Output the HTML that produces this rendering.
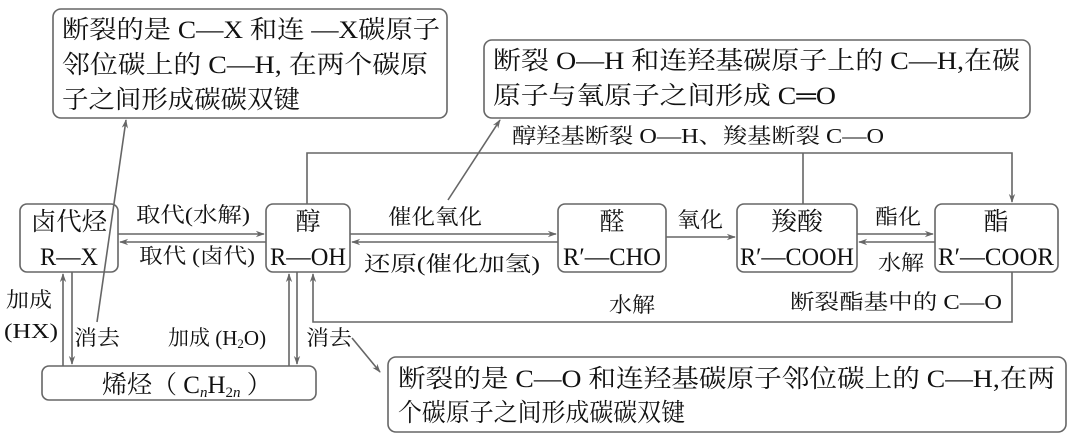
<!DOCTYPE html>
<html><head><meta charset="utf-8"><style>
html,body{margin:0;padding:0;background:#fff}
svg{display:block}
text{font-family:"Liberation Serif","Noto Serif CJK SC",serif;fill:#111}
.b{font-size:25px}
.s{font-size:21px}
</style></head><body>
<svg width="1080" height="442" viewBox="0 0 1080 442" xmlns="http://www.w3.org/2000/svg">
<defs><marker id="a" viewBox="0 0 10 10" refX="9" refY="5" markerWidth="9" markerHeight="9" orient="auto-start-reverse" markerUnits="userSpaceOnUse"><path d="M0,1.5 L10,5 L0,8.5 L3,5 z" fill="#666"/></marker></defs>
<g fill="none" stroke="#666" stroke-width="1.6">
<rect x="53" y="9" width="394" height="109" rx="8"/>
<rect x="484" y="40" width="546" height="78" rx="8"/>
<rect x="388" y="357" width="678" height="75" rx="8"/>
<rect x="20" y="204" width="98" height="68" rx="7"/>
<rect x="266" y="204" width="84" height="68" rx="7"/>
<rect x="558" y="204" width="108" height="68" rx="7"/>
<rect x="737" y="204" width="120" height="68" rx="7"/>
<rect x="935" y="204" width="123" height="68" rx="7"/>
<rect x="42" y="366" width="274" height="34" rx="7"/>
<line x1="118" y1="234" x2="264" y2="234" marker-end="url(#a)"/>
<line x1="266" y1="242" x2="120" y2="242" marker-end="url(#a)"/>
<line x1="350" y1="234" x2="556" y2="234" marker-end="url(#a)"/>
<line x1="558" y1="242" x2="352" y2="242" marker-end="url(#a)"/>
<line x1="666" y1="237" x2="735" y2="237" marker-end="url(#a)"/>
<line x1="857" y1="234" x2="933" y2="234" marker-end="url(#a)"/>
<line x1="935" y1="242" x2="859" y2="242" marker-end="url(#a)"/>
<polyline points="307,204 307,153 1012,153 1012,202" marker-end="url(#a)"/>
<line x1="803" y1="204" x2="803" y2="153"/>
<polyline points="1012,272 1012,322 313,322 313,274" marker-end="url(#a)"/>
<line x1="63" y1="366" x2="63" y2="274" marker-end="url(#a)"/>
<line x1="72" y1="272" x2="72" y2="364" marker-end="url(#a)"/>
<line x1="289" y1="366" x2="289" y2="274" marker-end="url(#a)"/>
<line x1="297" y1="272" x2="297" y2="364" marker-end="url(#a)"/>
<line x1="97" y1="322" x2="126" y2="120" marker-end="url(#a)"/>
<line x1="448" y1="200" x2="500" y2="120" marker-end="url(#a)"/>
<line x1="352" y1="338" x2="380" y2="372" marker-end="url(#a)"/>
</g>
<text class="b" x="62" y="38" textLength="378" lengthAdjust="spacingAndGlyphs">断裂的是 C—X 和连 —X碳原子</text>
<text class="b" x="62" y="73" textLength="366" lengthAdjust="spacingAndGlyphs">邻位碳上的 C—H, 在两个碳原</text>
<text class="b" x="62" y="108" textLength="238" lengthAdjust="spacingAndGlyphs">子之间形成碳碳双键</text>
<text class="b" x="493" y="69" textLength="527" lengthAdjust="spacingAndGlyphs">断裂 O—H 和连羟基碳原子上的 C—H,在碳</text>
<text class="b" x="493" y="104" textLength="343" lengthAdjust="spacingAndGlyphs">原子与氧原子之间形成 C═O</text>
<text class="b" x="398" y="387" textLength="657" lengthAdjust="spacingAndGlyphs">断裂的是 C—O 和连羟基碳原子邻位碳上的 C—H,在两</text>
<text class="b" x="398" y="421" textLength="287" lengthAdjust="spacingAndGlyphs">个碳原子之间形成碳碳双键</text>
<text class="s" x="512" y="143" textLength="372" lengthAdjust="spacingAndGlyphs">醇羟基断裂 O—H、羧基断裂  C—O</text>
<text class="b" x="69" y="230" text-anchor="middle" textLength="76" lengthAdjust="spacingAndGlyphs">卤代烃</text>
<text class="b" x="69" y="265" text-anchor="middle" textLength="58" lengthAdjust="spacingAndGlyphs">R—X</text>
<text class="b" x="308" y="230" text-anchor="middle">醇</text>
<text class="b" x="308" y="265" text-anchor="middle" textLength="76" lengthAdjust="spacingAndGlyphs">R—OH</text>
<text class="b" x="612" y="230" text-anchor="middle">醛</text>
<text class="b" x="612" y="265" text-anchor="middle" textLength="98" lengthAdjust="spacingAndGlyphs">R′—CHO</text>
<text class="b" x="797" y="230" text-anchor="middle" textLength="52" lengthAdjust="spacingAndGlyphs">羧酸</text>
<text class="b" x="797" y="265" text-anchor="middle" textLength="114" lengthAdjust="spacingAndGlyphs">R′—COOH</text>
<text class="b" x="996" y="230" text-anchor="middle">酯</text>
<text class="b" x="996" y="265" text-anchor="middle" textLength="116" lengthAdjust="spacingAndGlyphs">R′—COOR</text>
<text class="b" x="102" y="393">烯烃（ C<tspan font-style="italic" font-size="15" dy="4">n</tspan><tspan dy="-4">H</tspan><tspan font-size="15" dy="4">2<tspan font-style="italic">n</tspan></tspan><tspan dy="-4"> ）</tspan></text>
<text class="s" x="136" y="222" textLength="114" lengthAdjust="spacingAndGlyphs">取代(水解)</text>
<text class="s" x="139" y="263" textLength="116" lengthAdjust="spacingAndGlyphs">取代 (卤代)</text>
<text class="s" x="388" y="224" textLength="94" lengthAdjust="spacingAndGlyphs">催化氧化</text>
<text class="s" x="364" y="271" textLength="176" lengthAdjust="spacingAndGlyphs">还原(催化加氢)</text>
<text class="s" x="677" y="227" textLength="46" lengthAdjust="spacingAndGlyphs">氧化</text>
<text class="s" x="875" y="224" textLength="46" lengthAdjust="spacingAndGlyphs">酯化</text>
<text class="s" x="878" y="270" textLength="46" lengthAdjust="spacingAndGlyphs">水解</text>
<text class="s" x="609" y="312" textLength="46" lengthAdjust="spacingAndGlyphs">水解</text>
<text class="s" x="790" y="309" textLength="212" lengthAdjust="spacingAndGlyphs">断裂酯基中的 C—O</text>
<text class="s" x="6" y="307" textLength="46" lengthAdjust="spacingAndGlyphs">加成</text>
<text class="s" x="4" y="338" textLength="54" lengthAdjust="spacingAndGlyphs">(HX)</text>
<text class="s" x="74" y="345" textLength="46" lengthAdjust="spacingAndGlyphs">消去</text>
<text class="s" x="168" y="345">加成 (H<tspan font-size="13" dy="3">2</tspan><tspan dy="-3">O)</tspan></text>
<text class="s" x="306" y="345" textLength="46" lengthAdjust="spacingAndGlyphs">消去</text>
</svg>
</body></html>
